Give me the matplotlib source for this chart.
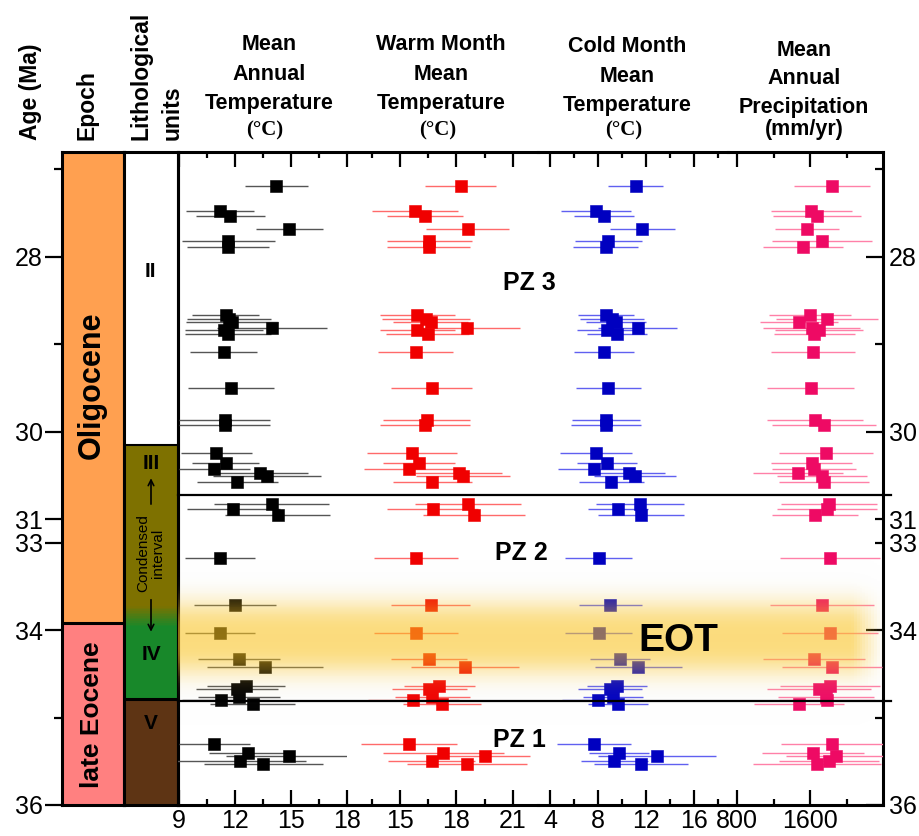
import numpy as np
import matplotlib
matplotlib.use('Agg')
import matplotlib.pyplot as plt
from matplotlib.ticker import FixedLocator, FixedFormatter, NullFormatter

plt.rcParams['font.family'] = ['Liberation Sans', 'DejaVu Sans']

# ---------------- data ----------------
AGE = [27.19, 27.47, 27.53, 27.68, 27.82, 27.89, 28.66, 28.71, 28.75, 28.81,
       28.84, 28.88, 29.09, 29.50, 29.87, 29.92, 30.24, 30.36, 30.43, 30.47,
       30.51, 30.58, 30.83, 30.88, 30.95, 33.17, 33.71, 34.03, 34.33, 34.42,
       34.64, 34.67, 34.76, 34.80, 34.84, 35.30, 35.40, 35.44, 35.50, 35.53]

MAT = [14.23, 11.20, 11.75, 14.91, 11.64, 11.61, 11.52, 11.68, 11.84, 13.98,
       11.41, 11.62, 11.39, 11.80, 11.46, 11.45, 11.00, 11.50, 10.89, 13.34,
       13.70, 12.14, 13.97, 11.91, 14.29, 11.20, 12.02, 11.20, 12.21, 13.61,
       12.60, 12.09, 12.21, 11.25, 12.95, 10.89, 12.71, 14.91, 12.30, 13.52]
MAT_ERR = [1.7, 1.8, 1.85, 1.8, 2.5, 2.2, 1.8, 2.25, 2.45, 2.95,
           2.1, 2.3, 1.8, 2.3, 2.45, 2.45, 1.9, 1.8, 1.9, 2.6,
           2.9, 2.2, 3.1, 2.5, 2.8, 1.9, 2.2, 1.9, 2.2, 3.1,
           2.1, 2.2, 2.2, 2.1, 2.3, 1.9, 2.1, 3.4, 3.5, 3.2]

WMMT = [18.22, 15.80, 16.33, 18.60, 16.56, 16.54, 15.92, 16.38, 16.63, 18.57,
        15.92, 16.47, 15.83, 16.68, 16.42, 16.33, 15.64, 16.02, 15.49, 18.12,
        18.36, 16.72, 18.61, 16.74, 18.93, 15.85, 16.63, 15.85, 16.54, 18.45,
        17.09, 16.56, 16.72, 15.71, 17.23, 15.48, 17.30, 19.50, 16.68, 18.56]
WMMT_ERR = [1.9, 2.3, 2.0, 2.2, 2.25, 2.2, 2.0, 2.35, 2.0, 2.8,
            2.0, 2.2, 2.0, 2.15, 2.3, 2.4, 2.4, 1.9, 2.4, 2.3,
            2.5, 2.1, 2.8, 2.4, 2.7, 2.25, 2.1, 2.25, 2.0, 2.85,
            1.9, 2.0, 2.0, 2.4, 2.05, 2.55, 3.2, 2.4, 2.3, 3.2]

CMMT = [11.14, 7.83, 8.53, 11.69, 8.86, 8.64, 8.67, 9.17, 9.50, 11.31,
        8.72, 9.56, 8.53, 8.86, 8.67, 8.67, 7.81, 8.72, 7.67, 10.61,
        11.08, 9.11, 11.50, 9.69, 11.58, 8.06, 9.03, 8.06, 9.81, 11.36,
        9.61, 9.00, 9.22, 8.03, 9.64, 7.69, 9.78, 12.89, 9.36, 11.56]
CMMT_ERR = [2.3, 2.9, 2.5, 2.7, 2.8, 2.7, 2.35, 2.7, 2.5, 3.3,
            2.5, 2.5, 2.5, 2.7, 2.85, 2.9, 3.0, 2.5, 3.0, 3.0,
            3.4, 2.7, 3.7, 2.5, 3.6, 2.8, 2.65, 2.8, 2.5, 3.6,
            2.5, 2.7, 2.5, 3.0, 2.5, 3.1, 2.5, 4.9, 2.8, 3.9]

MAP = [1838, 1611, 1680, 1570, 1728, 1523, 1600, 1783, 1483, 1619,
       1702, 1647, 1633, 1608, 1658, 1757, 1775, 1619, 1647, 1472,
       1728, 1757, 1812, 1790, 1652, 1816, 1732, 1823, 1647, 1844,
       1819, 1699, 1775, 1783, 1480, 1838, 1636, 1885, 1812, 1674]
MAP_ERR = [416, 444, 482, 350, 548, 438, 449, 560, 427, 530,
           482, 442, 460, 477, 526, 570, 515, 444, 460, 493,
           493, 493, 526, 548, 471, 548, 570, 526, 559, 548,
           548, 570, 526, 526, 493, 560, 560, 548, 548, 700]

EPOCHS = ['Oligocene', 'late Eocene']
EPOCH_BOUNDS = [26.8, 33.92, 36.0]
LITHO_UNITS = ['II', 'III', 'IV', 'V']
LITHO_BOUNDS = [26.8, 30.15, 33.84, 34.79, 36.0]
PZ_LABELS = ['PZ 3', 'PZ 2', 'PZ 1']
PZ_BOUNDS = [30.72, 34.81]
EOT_CENTER, EOT_HALF = 34.09, 0.42

AGE_MAJOR = [28, 30, 31, 33, 34, 36]
AGE_MINOR = [27, 29, 35]

# ---------------- figure ----------------
W, H = 919, 836
fig = plt.figure(figsize=(W / 100, H / 100), dpi=100)


def fx(px):
    return px / W


def fy(py):
    return 1 - py / H


# age axis with the 31-33 Ma interval compressed
def fwd(a):
    return np.interp(a, [20, 31, 33, 40], [20, 31, 31.27, 38.27])


def inv(p):
    return np.interp(p, [20, 31, 31.27, 38.27], [20, 31, 33, 40])


TOP, BOT = 152, 805
YLIM = (36.0, 26.8)
SPW = 2.2


def make_ax(l, r, z=1):
    ax = fig.add_axes([fx(l), fy(BOT), (r - l) / W, (BOT - TOP) / H], zorder=z)
    ax.set_yscale('function', functions=(fwd, inv))
    ax.set_ylim(*YLIM)
    for s in ax.spines.values():
        s.set_linewidth(SPW)
    return ax


# ---- epoch column ----
axe = make_ax(62, 124)
axe.set_xlim(0, 1)
axe.set_xticks([])
ep_colors = ['#FFA050', '#FF8080']
for i, name in enumerate(EPOCHS):
    axe.axhspan(EPOCH_BOUNDS[i], EPOCH_BOUNDS[i + 1], color=ep_colors[i], lw=0)
axe.axhline(EPOCH_BOUNDS[1], color='black', lw=SPW)
axe.text(0.48, 29.47, EPOCHS[0], rotation=90, ha='center', va='center',
         fontsize=22, fontweight='bold')
axe.text(0.48, 34.97, EPOCHS[1], rotation=90, ha='center', va='center',
         fontsize=19, fontweight='bold')
axe.yaxis.set_major_locator(FixedLocator(AGE_MAJOR))
axe.yaxis.set_major_formatter(FixedFormatter([str(a) for a in AGE_MAJOR]))
axe.yaxis.set_minor_locator(FixedLocator(AGE_MINOR))
axe.yaxis.set_minor_formatter(NullFormatter())
axe.tick_params(axis='y', which='major', direction='out', length=12, width=1.6,
                labelsize=18, pad=2)
axe.tick_params(axis='y', which='minor', direction='out', length=6, width=1.6)

# ---- lithology column ----
axl = make_ax(124, 178)
axl.set_xlim(0, 1)
axl.set_xticks([])
axl.set_yticks([])
axl.set_yticks([], minor=True)
axl.axhspan(LITHO_BOUNDS[0], LITHO_BOUNDS[1], color='white', lw=0)
olive = np.array([126, 113, 0]) / 255
green = np.array([24, 136, 42]) / 255
ly = np.linspace(LITHO_BOUNDS[1], LITHO_BOUNDS[3], 240)
lyc = 0.5 * (ly[:-1] + ly[1:])
t = np.clip((lyc - (LITHO_BOUNDS[2] - 0.12)) / 0.24, 0, 1)
col = olive[None, :] * (1 - t[:, None]) + green[None, :] * t[:, None]
LX, LY = np.meshgrid([0, 1], ly)
axl.pcolormesh(LX, LY, col[:, None, :], shading='flat', antialiased=False)
axl.axhspan(LITHO_BOUNDS[3], LITHO_BOUNDS[4], color='#5E3414', lw=0)
axl.axhline(LITHO_BOUNDS[1], color='black', lw=1.5)
axl.axhline(LITHO_BOUNDS[3], color='black', lw=SPW)
axl.text(0.48, 28.17, 'II', ha='center', va='center', fontsize=15, fontweight='bold')
axl.text(0.5, 30.36, 'III', ha='center', va='center', fontsize=15, fontweight='bold')
axl.text(0.5, 34.28, 'IV', ha='center', va='center', fontsize=15, fontweight='bold')
axl.text(0.5, 35.07, 'V', ha='center', va='center', fontsize=15, fontweight='bold')
axl.text(0.5, 33.12, 'Condensed\ninterval', rotation=90, ha='center', va='center',
         fontsize=11, linespacing=1.05)
axl.annotate('', xy=(0.5, 30.50), xytext=(0.5, 30.86),
             arrowprops=dict(arrowstyle='->', lw=1.2, color='black'))
axl.annotate('', xy=(0.5, 34.05), xytext=(0.5, 33.62),
             arrowprops=dict(arrowstyle='->', lw=1.2, color='black'))

# ---- data panels ----
edges = [178, 347, 538, 728, 883]
xlims = [(8.946, 18.02), (12.19, 22.33), (3.0, 18.83), (701, 2400)]
majors = [[9, 12, 15, 18], [15, 18, 21], [4, 8, 12, 16], [800, 1600]]
minors = [[10.5, 13.5, 16.5], [13.5, 16.5, 19.5], [6, 10, 14, 18], [1200, 2000]]
series = [(MAT, MAT_ERR, '#000000', '#555555'),
          (WMMT, WMMT_ERR, '#F00000', '#FF6A6A'),
          (CMMT, CMMT_ERR, '#0000C0', '#6060F0'),
          (MAP, MAP_ERR, '#EE0A64', '#FF80A8')]
axes = []
for i in range(4):
    ax = make_ax(edges[i], edges[i + 1], z=2)
    ax.set_facecolor('none')
    ax.set_xlim(*xlims[i])
    vals, errs, mc, ec = series[i]
    ax.errorbar(vals, AGE, xerr=errs, fmt='s', ms=8.2, mfc=mc, mec=mc, mew=0.4,
                ecolor=ec, elinewidth=1.0, capsize=0, zorder=3)
    ax.xaxis.set_major_locator(FixedLocator(majors[i]))
    ax.xaxis.set_major_formatter(FixedFormatter([str(m) for m in majors[i]]))
    ax.xaxis.set_minor_locator(FixedLocator(minors[i]))
    ax.tick_params(axis='x', which='major', direction='in', top=True, bottom=True,
                   length=11, width=1.6, labelsize=18, pad=3)
    ax.tick_params(axis='x', which='minor', direction='in', top=True, bottom=True,
                   length=4.5, width=1.6)
    ax.spines['left'].set_visible(i == 0)
    ax.spines['right'].set_visible(i == 3)
    if i < 3:
        ax.yaxis.set_major_locator(FixedLocator([]))
        ax.yaxis.set_minor_locator(FixedLocator([]))
    axes.append(ax)

ax4 = axes[3]
ax4.yaxis.set_major_locator(FixedLocator([28, 30, 34, 36]))
ax4.yaxis.set_major_formatter(FixedFormatter(['28', '30', '34', '36']))
ax4.yaxis.set_minor_locator(FixedLocator([27, 29, 31, 33, 35]))
ax4.yaxis.set_minor_formatter(FixedFormatter(['', '', '31', '33', '']))
ax4.tick_params(axis='y', which='both', left=False, right=True, labelleft=False,
                labelright=True, direction='in', width=1.6, labelsize=18, pad=4)
ax4.tick_params(axis='y', which='major', length=12)
ax4.tick_params(axis='y', which='minor', length=5.5)

# ---- overlay: EOT band, zone boundaries, labels ----
ov = make_ax(178, 883, z=5)
ov.set_facecolor('none')
ov.set_xlim(0, 1)
ov.axis('off')

bx = np.linspace(0, 1, 241)
by = np.linspace(33.2, 35.1, 191)
BX, BY = np.meshgrid(bx, by)
XC, YC = np.meshgrid(0.5 * (bx[:-1] + bx[1:]), 0.5 * (by[:-1] + by[1:]))
xfade = np.clip((1.0 - XC) / 0.045, 0, 1)
haze = np.zeros(XC.shape + (4,))
haze[..., :3] = 0.85
haze[..., 3] = 0.05 * np.exp(-((YC - 34.12) / 0.72) ** 4) * np.clip((1.01 - XC) / 0.05, 0, 1)
ov.pcolormesh(BX, BY, haze, shading='flat', antialiased=False, zorder=1)
band = np.zeros(XC.shape + (4,))
band[..., 0] = 250 / 255
band[..., 1] = 194 / 255
band[..., 2] = 25 / 255
band[..., 3] = 0.56 * np.exp(-np.abs((YC - EOT_CENTER) / EOT_HALF) ** 3) * xfade
ov.pcolormesh(BX, BY, band, shading='flat', antialiased=False, zorder=2)

for b in PZ_BOUNDS:
    ov.plot([0, 1.012], [b, b], color='black', lw=1.6, clip_on=False, zorder=4)

ov.text(0.499, 28.30, PZ_LABELS[0], ha='center', va='center', fontsize=18, fontweight='bold', zorder=5)
ov.text(0.487, 33.12, PZ_LABELS[1], ha='center', va='center', fontsize=18, fontweight='bold', zorder=5)
ov.text(0.485, 35.26, PZ_LABELS[2], ha='center', va='center', fontsize=18, fontweight='bold', zorder=5)
ov.text(0.709, 34.12, 'EOT', ha='center', va='center', fontsize=28, fontweight='bold', zorder=5)

# ---- headers ----
hk = dict(ha='center', va='center', fontsize=15.5, fontweight='bold')
ck = dict(ha='center', va='center', fontsize=15, fontweight='bold', family=['Liberation Serif', 'DejaVu Serif'])
fig.text(fx(30), fy(140), 'Age (Ma)', rotation=90, ha='center', va='bottom', fontsize=16.5, fontweight='bold')
fig.text(fx(87), fy(140), 'Epoch', rotation=90, ha='center', va='bottom', fontsize=16.5, fontweight='bold')
fig.text(fx(141), fy(140), 'Lithological', rotation=90, ha='center', va='bottom', fontsize=16.5, fontweight='bold')
fig.text(fx(172), fy(140), 'units', rotation=90, ha='center', va='bottom', fontsize=16.5, fontweight='bold')

for txt, yy in [('Mean', 45), ('Annual', 74), ('Temperature', 103)]:
    fig.text(fx(269), fy(yy), txt, **hk)
fig.text(fx(265), fy(130), '(°C)', **ck)
for txt, yy in [('Warm Month', 45), ('Mean', 75), ('Temperature', 103)]:
    fig.text(fx(441), fy(yy), txt, **hk)
fig.text(fx(438), fy(130), '(°C)', **ck)
for txt, yy in [('Cold Month', 47), ('Mean', 77), ('Temperature', 106)]:
    fig.text(fx(627), fy(yy), txt, **hk)
fig.text(fx(624), fy(130), '(°C)', **ck)
for txt, yy in [('Mean', 50), ('Annual', 79), ('Precipitation', 108), ('(mm/yr)', 130)]:
    fig.text(fx(804), fy(yy), txt, **hk)

fig.savefig('out.png', dpi=100)
